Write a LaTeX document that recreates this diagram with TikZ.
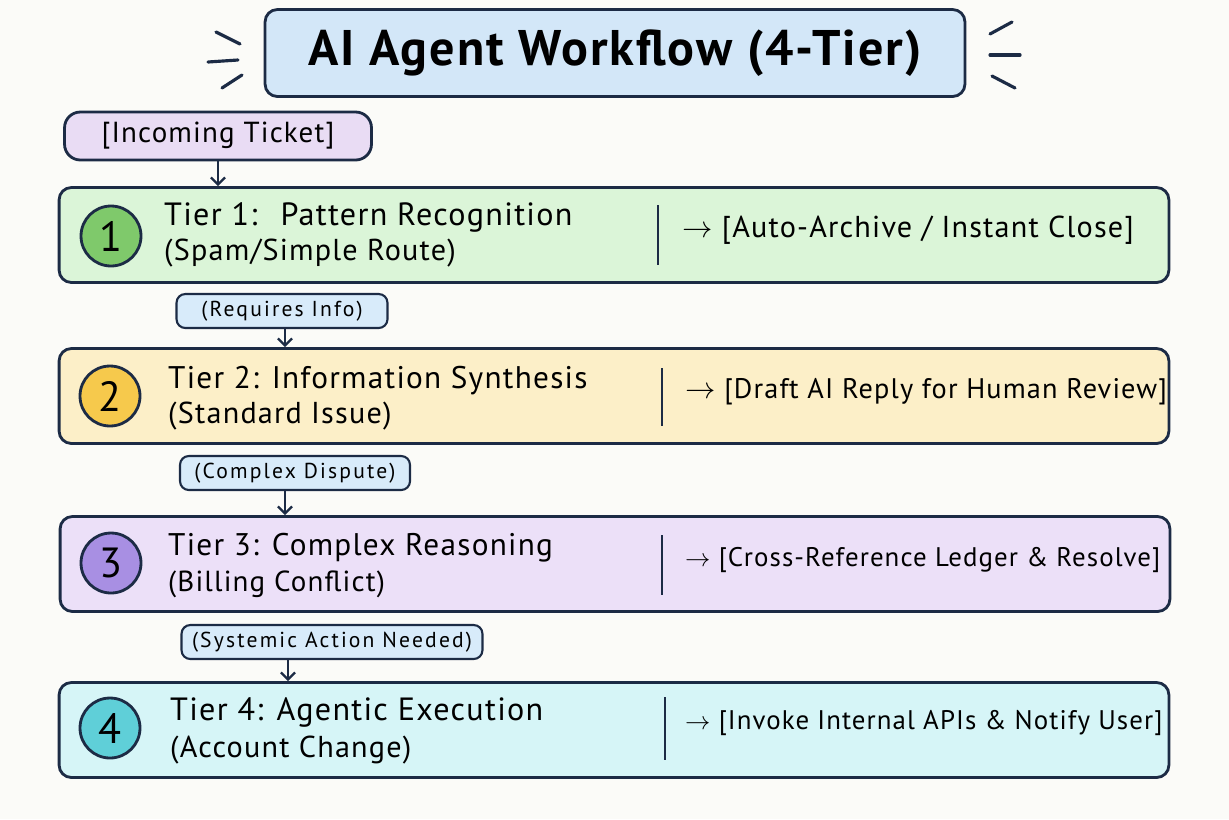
\documentclass[tikz,border=0pt]{standalone}
\usepackage{fontspec}
\setmainfont{PT Sans}[LetterSpace=4]
\newfontfamily\smallhand{PT Sans}[LetterSpace=10]
\usepackage{xcolor}
\usetikzlibrary{calc,arrows.meta}

\definecolor{ink}{HTML}{1C2B45}
\definecolor{paper}{HTML}{FBFBF8}
\definecolor{titleblue}{HTML}{D3E7F8}
\definecolor{condblue}{HTML}{D8EBFA}
\definecolor{lilac}{HTML}{E9DCF4}
\definecolor{greenfill}{HTML}{DBF5D8}\definecolor{greenbadge}{HTML}{7FC96B}
\definecolor{yellowfill}{HTML}{FCEFC8}\definecolor{yellowbadge}{HTML}{F6C94C}
\definecolor{purplefill}{HTML}{ECE0F8}\definecolor{purplebadge}{HTML}{A88FE3}
\definecolor{cyanfill}{HTML}{D6F5F7}\definecolor{cyanbadge}{HTML}{5FCFD8}

\begin{document}
\begin{tikzpicture}[x=0.02cm, y=-0.02cm,
  box/.style={draw=ink, line width=1.6pt, rounded corners=7pt, inner sep=0pt},
  tier/.style={box, minimum width=22.2cm, minimum height=1.9cm},
  badge/.style={circle, draw=ink, line width=1.6pt, minimum size=1.2cm, inner sep=0pt, font=\fontsize{24}{24}\selectfont},
  cond/.style={box, fill=condblue, line width=1.2pt, rounded corners=5pt, minimum height=0.68cm, font=\smallhand\fontsize{12.3}{14}\selectfont},
  head/.style={anchor=west, font=\fontsize{18.3}{22}\selectfont},
  sub/.style={anchor=west, font=\fontsize{17.2}{20}\selectfont},
  outcome/.style={anchor=west, font=\fontsize{16.5}{20}\selectfont},
  divider/.style={ink, line width=1.3pt},
  flow/.style={ink, line width=1.3pt, -{Straight Barb[length=4pt,width=8pt]}},
  spark/.style={ink, line width=1.8pt, line cap=round}]
\fill[paper] (0,0) rectangle (1229,819);
% title and its sparks
\node[box, fill=titleblue, minimum width=14cm, minimum height=1.74cm, font=\bfseries\fontsize{28.5}{32}\selectfont] (title) at (615,53) {AI Agent Workflow (4-Tier)};
\draw[spark] (216,32) -- (240,44); \draw[spark] (208,62) -- (238,60); \draw[spark] (222,88) -- (242,75);
\draw[spark] (990,34) -- (1012,22); \draw[spark] (990,55) -- (1020,55); \draw[spark] (992,76) -- (1015,88);
% entry
\node[box, fill=lilac, rounded corners=9pt, minimum width=6.14cm, minimum height=0.96cm, font=\fontsize{16.5}{18}\selectfont] (ticket) at (218,136) {[Incoming Ticket]};
% tier 1
\node[tier, fill=greenfill] (tier1) at (614,235) {};
\node[badge, fill=greenbadge] (b1) at (111,236) {1};
\node[head] (h1) at (158,217) {Tier 1:~ Pattern Recognition};
\node[sub] (s1) at (158,253) {(Spam/Simple Route)};
\draw[divider] (658,205) -- (658,265);
\node[outcome, font=\fontsize{17.2}{20}\selectfont] (o1) at (676,230) {$\rightarrow$ [Auto-Archive / Instant Close]};
\draw[flow] (ticket.south) -- (ticket.south |- tier1.north);
% tier 2
\node[cond, minimum width=4.22cm] (info) at (282,311) {(Requires Info)};
\node[tier, fill=yellowfill] (tier2) at (614,396) {};
\node[badge, fill=yellowbadge] (b2) at (110,396) {2};
\node[head, font=\fontsize{17.8}{22}\selectfont] (h2) at (162,381) {Tier 2: Information Synthesis};
\node[sub] (s2) at (162,416) {(Standard Issue)};
\draw[divider] (662,368) -- (662,426);
\node[outcome, font=\fontsize{16.1}{20}\selectfont] (o2) at (679,392) {$\rightarrow$ [Draft AI Reply for Human Review]};
\draw[flow] ([xshift=0.06cm]info.south) -- ([xshift=0.06cm]info.south |- tier2.north);
% tier 3
\node[cond, minimum width=4.6cm] (dispute) at (295,473) {(Complex Dispute)};
\node[tier, fill=purplefill] (tier3) at (615,564) {};
\node[badge, fill=purplebadge] (b3) at (111,563) {3};
\node[head, font=\fontsize{17.8}{22}\selectfont] (h3) at (162,548) {Tier 3: Complex Reasoning};
\node[sub, font=\fontsize{16.5}{20}\selectfont] (s3) at (162,584) {(Billing Conflict)};
\draw[divider] (662,535) -- (662,595);
\node[outcome, font=\fontsize{15.3}{20}\selectfont] (o3) at (679,560) {$\rightarrow$ [Cross-Reference Ledger \& Resolve]};
\draw[flow] ([xshift=-0.2cm]dispute.south) -- ([xshift=-0.2cm]dispute.south |- tier3.north);
% tier 4
\node[cond, minimum width=6.02cm] (systemic) at (332,642) {(Systemic Action Needed)};
\node[tier, fill=cyanfill] (tier4) at (614,730) {};
\node[badge, fill=cyanbadge] (b4) at (110,728) {4};
\node[head] (h4) at (164,712) {Tier 4: Agentic Execution};
\node[sub] (s4) at (164,750) {(Account Change)};
\draw[divider] (665,697) -- (665,760);
\node[outcome, font=\fontsize{15.3}{20}\selectfont] (o4) at (679,723) {$\rightarrow$ [Invoke Internal APIs \& Notify User]};
\draw[flow] ([xshift=-0.88cm]systemic.south) -- ([xshift=-0.88cm]systemic.south |- tier4.north);
\end{tikzpicture}
\end{document}
